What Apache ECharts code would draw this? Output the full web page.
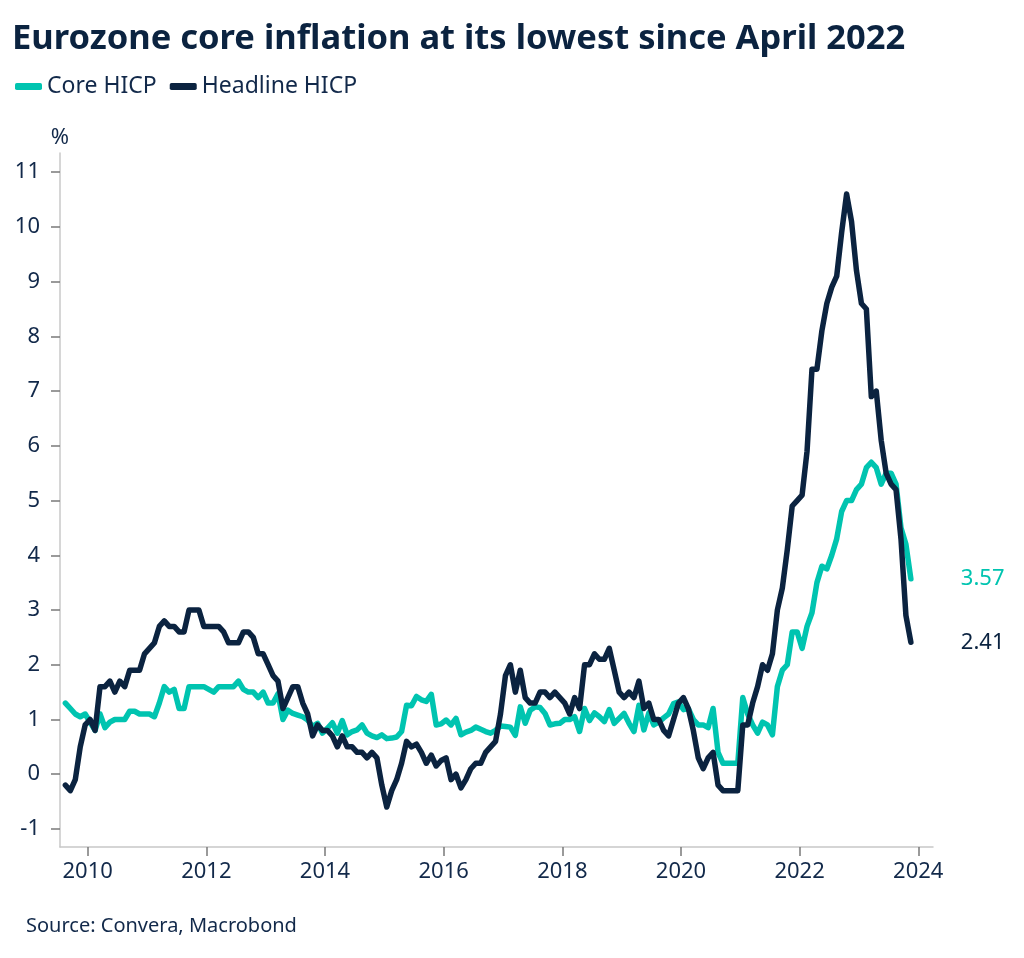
<!DOCTYPE html>
<html>
<head>
<meta charset="utf-8">
<script src="https://cdn.jsdelivr.net/npm/echarts@6/dist/echarts.min.js"></script>
<style>
html,body{margin:0;padding:0;background:#fff;}
#chart{width:1024px;height:958px;}
</style>
</head>
<body>
<div id="chart"></div>
<script>
// ---- Data (monthly, y/y %, Aug 2009 - Nov 2023) ----
const startYear = 2009;
const startMonth = 8;

const coreHICP = [
  /*2009*/ 1.3, 1.2, 1.1, 1.05, 1.1,
  /*2010*/ 0.95, 0.8, 1.1, 0.85, 0.95, 1.0, 1.0, 1.0, 1.15, 1.15, 1.1, 1.1,
  /*2011*/ 1.1, 1.05, 1.3, 1.6, 1.5, 1.55, 1.2, 1.2, 1.6, 1.6, 1.6, 1.6,
  /*2012*/ 1.55, 1.5, 1.6, 1.6, 1.6, 1.6, 1.7, 1.55, 1.5, 1.5, 1.4, 1.5,
  /*2013*/ 1.3, 1.3, 1.47, 1.0, 1.17, 1.11, 1.08, 1.05, 0.99, 0.87, 0.93, 0.75,
  /*2014*/ 0.84, 0.94, 0.75, 0.98, 0.72, 0.78, 0.81, 0.9, 0.75, 0.7, 0.67, 0.72,
  /*2015*/ 0.65, 0.66, 0.68, 0.78, 1.26, 1.25, 1.42, 1.36, 1.33, 1.46, 0.9, 0.92,
  /*2016*/ 0.99, 0.9, 1.02, 0.72, 0.77, 0.8, 0.86, 0.82, 0.78, 0.75, 0.8, 0.88,
  /*2017*/ 0.87, 0.86, 0.71, 1.23, 0.93, 1.17, 1.23, 1.22, 1.11, 0.9, 0.92, 0.93,
  /*2018*/ 1.0, 1.0, 1.05, 0.78, 1.2, 0.98, 1.12, 1.05, 0.96, 1.18, 0.93, 1.02,
  /*2019*/ 1.11, 0.93, 0.78, 1.26, 0.81, 1.12, 0.9, 0.95, 1.03, 1.1, 1.29, 1.32,
  /*2020*/ 1.18, 1.2, 1.0, 0.9, 0.9, 0.85, 1.2, 0.4, 0.2, 0.2, 0.2, 0.2,
  /*2021*/ 1.4, 1.1, 0.9, 0.75, 0.95, 0.9, 0.72, 1.6, 1.9, 2.0, 2.6, 2.6,
  /*2022*/ 2.3, 2.7, 2.95, 3.5, 3.8, 3.75, 4.0, 4.3, 4.8, 5.0, 5.0, 5.2,
  /*2023*/ 5.3, 5.6, 5.7, 5.6, 5.3, 5.5, 5.5, 5.3, 4.5, 4.2, 3.57
];

const headlineHICP = [
  /*2009*/ -0.2, -0.3, -0.1, 0.5, 0.9,
  /*2010*/ 1.0, 0.8, 1.6, 1.6, 1.7, 1.5, 1.7, 1.6, 1.9, 1.9, 1.9, 2.2,
  /*2011*/ 2.3, 2.4, 2.7, 2.8, 2.7, 2.7, 2.6, 2.6, 3.0, 3.0, 3.0, 2.7,
  /*2012*/ 2.7, 2.7, 2.7, 2.6, 2.4, 2.4, 2.4, 2.6, 2.6, 2.5, 2.2, 2.2,
  /*2013*/ 2.0, 1.8, 1.7, 1.2, 1.4, 1.6, 1.6, 1.3, 1.1, 0.7, 0.9, 0.8,
  /*2014*/ 0.8, 0.7, 0.5, 0.7, 0.5, 0.5, 0.4, 0.4, 0.3, 0.4, 0.3, -0.2,
  /*2015*/ -0.6, -0.3, -0.1, 0.2, 0.6, 0.5, 0.55, 0.4, 0.2, 0.35, 0.15, 0.25,
  /*2016*/ 0.3, -0.1, 0.0, -0.25, -0.1, 0.1, 0.2, 0.2, 0.4, 0.5, 0.6, 1.1,
  /*2017*/ 1.8, 2.0, 1.5, 1.9, 1.4, 1.3, 1.3, 1.5, 1.5, 1.4, 1.5, 1.4,
  /*2018*/ 1.3, 1.1, 1.4, 1.2, 2.0, 2.0, 2.2, 2.1, 2.1, 2.3, 1.9, 1.5,
  /*2019*/ 1.4, 1.5, 1.4, 1.7, 1.2, 1.3, 1.0, 1.0, 0.8, 0.7, 1.0, 1.3,
  /*2020*/ 1.4, 1.2, 0.8, 0.3, 0.1, 0.3, 0.4, -0.2, -0.3, -0.3, -0.3, -0.3,
  /*2021*/ 0.9, 0.9, 1.3, 1.6, 2.0, 1.9, 2.2, 3.0, 3.4, 4.1, 4.9, 5.0,
  /*2022*/ 5.1, 5.9, 7.4, 7.4, 8.1, 8.6, 8.9, 9.1, 9.9, 10.6, 10.1, 9.2,
  /*2023*/ 8.6, 8.5, 6.9, 7.0, 6.1, 5.5, 5.3, 5.2, 4.3, 2.9, 2.41
];

const yTicks = [-1, 0, 1, 2, 3, 4, 5, 6, 7, 8, 9, 10, 11];
const xTicks = [2010, 2012, 2014, 2016, 2018, 2020, 2022, 2024];

const titleText = 'Eurozone core inflation at its lowest since April 2022';
const sourceText = 'Source: Convera, Macrobond';
const seriesNames = ['Core HICP', 'Headline HICP'];

// ---- Build pairs (decimal year at mid-month) ----
function monthPos(i) {
  const m0 = startMonth - 1 + i;
  const y = startYear + Math.floor(m0 / 12);
  const m = (m0 % 12) + 1;
  return y + (m - 0.5) / 12;
}
const corePairs = coreHICP.map((v, i) => [monthPos(i), v]);
const headPairs = headlineHICP.map((v, i) => [monthPos(i), v]);

const TEAL = '#00c4b0';
const NAVY = '#0b2340';
const TEXT = '#12294a';
const FONT = '"Noto Sans", "Open Sans", sans-serif';

const chart = echarts.init(document.getElementById('chart'), null, {renderer: 'canvas'});
chart.setOption({
  animation: false,
  backgroundColor: '#ffffff',
  textStyle: {fontFamily: FONT},
  title: [
    {text: titleText, left: 7, top: 17,
     textStyle: {fontFamily: FONT, fontSize: 34.5, fontWeight: 'bold', color: NAVY}},
    {text: sourceText, left: 21, top: 911,
     textStyle: {fontFamily: FONT, fontSize: 20, fontWeight: 'normal', color: TEXT}}
  ],
  legend: {
    left: 10, top: 70,
    itemWidth: 27, itemHeight: 7, itemGap: 13,
    icon: 'roundRect',
    textStyle: {fontFamily: FONT, fontSize: 23, color: TEXT, padding: [0, 0, 0, 0]},
    data: seriesNames
  },
  grid: {left: 60, right: 91, top: 153, bottom: 111, containLabel: false},
  xAxis: {
    type: 'value',
    min: 2009.534, max: 2024.248,
    splitLine: {show: false},
    axisLine: {show: true, onZero: false, lineStyle: {color: '#c8c8c8', width: 1.5}},
    axisTick: {show: true, customValues: xTicks, length: 9, lineStyle: {color: '#7a7a7a', width: 1.5}},
    axisLabel: {customValues: xTicks, margin: 14, fontSize: 22, color: TEXT, fontFamily: FONT,
      formatter: v => String(Math.round(v))}
  },
  yAxis: {
    type: 'value',
    min: -1.33, max: 11.35,
    name: '%', nameLocation: 'end', nameGap: 4,
    nameTextStyle: {fontSize: 22, color: TEXT, fontFamily: FONT, align: 'center'},
    splitLine: {show: false},
    axisLine: {show: true, onZero: false, lineStyle: {color: '#c8c8c8', width: 1.5}},
    axisTick: {show: true, customValues: yTicks, length: 9, lineStyle: {color: '#7a7a7a', width: 1.5}},
    axisLabel: {customValues: yTicks, margin: 20, fontSize: 22, color: TEXT, fontFamily: FONT,
      formatter: v => String(Math.round(v))}
  },
  series: [
    {
      name: seriesNames[0], type: 'line', data: corePairs,
      showSymbol: false, symbol: 'none',
      color: TEAL,
      lineStyle: {width: 5.5, color: TEAL, join: 'round', cap: 'round'},
      endLabel: {show: true, distance: 50, fontSize: 22, color: TEAL, fontFamily: FONT,
        formatter: p => p.value[1].toFixed(2)}
    },
    {
      name: seriesNames[1], type: 'line', data: headPairs,
      showSymbol: false, symbol: 'none',
      color: NAVY,
      lineStyle: {width: 5.5, color: NAVY, join: 'round', cap: 'round'},
      endLabel: {show: true, distance: 50, fontSize: 22, color: NAVY, fontFamily: FONT,
        formatter: p => p.value[1].toFixed(2)}
    }
  ]
});
</script>
</body>
</html>
